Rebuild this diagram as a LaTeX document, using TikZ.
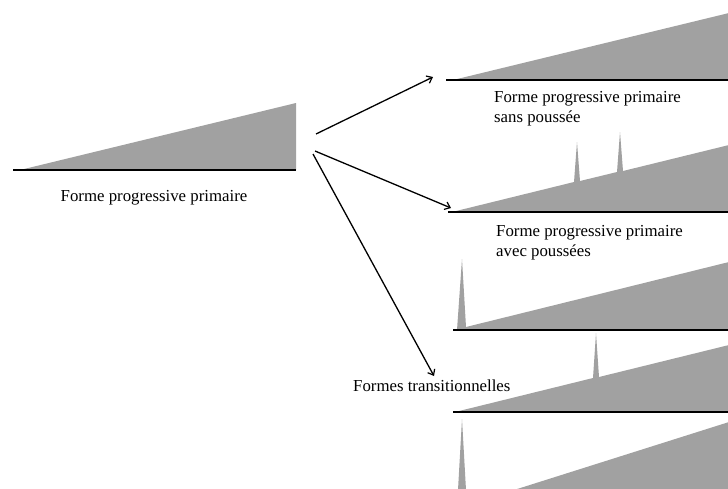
\documentclass[tikz,border=0pt]{standalone}
\usepackage{fontspec}
\setmainfont{Liberation Serif}
\usetikzlibrary{arrows.meta}
\begin{document}
\begin{tikzpicture}[x=1pt,y=-1pt,
  wedge/.style={fill=black!37, draw=none},
  ground/.style={draw=black, line width=1.8pt},
  flow/.style={draw=black, line width=1.3pt, -{Straight Barb[length=5pt,width=8pt,line width=1.2pt]}},
  caption/.style={font=\fontsize{16.8}{20}\selectfont, inner sep=0pt, align=left}]
\useasboundingbox (0,0) rectangle (728,488);
\clip (0,0) rectangle (728,488);

% primary progressive form (left)
\fill[wedge] (20,170) -- (296,103) -- (296,170) -- cycle;
\draw[ground] (13,170) -- (296,170);
\node[caption, anchor=base] (lbl0) at (154,201) {Forme progressive primaire};
\coordinate (src1) at (316,134);
\coordinate (src2) at (315,151);
\coordinate (src3) at (313,154);

% without thrusts
\fill[wedge] (453,80) -- (729,13) -- (729,80) -- cycle;
\draw[ground] (446,80) -- (730,80);
\coordinate (t1) at (433,77);
\node[caption, anchor=base west] (lbl1) at (494,122) {Forme progressive primaire\\sans poussée};

% with thrusts
\fill[wedge] (452,212) -- (574,182) -- (577,142) -- (580,181)
  -- (617,172) -- (620,132) -- (623,171) -- (729,145) -- (729,212) -- cycle;
\draw[ground] (448,212) -- (730,212);
\coordinate (t2) at (451,208);
\node[caption, anchor=base west] (lbl2) at (496,256) {Forme progressive primaire\\avec poussées};

% transitional forms
\fill[wedge] (457,330) -- (462,259) -- (466,327) -- (729,262) -- (729,330) -- cycle;
\draw[ground] (453,330) -- (730,330);

\fill[wedge] (455,412) -- (593,378) -- (596,333) -- (599,377) -- (729,345) -- (729,412) -- cycle;
\draw[ground] (453,412) -- (730,412);

\fill[wedge] (458,490) -- (462,419) -- (466,490) -- cycle;
\fill[wedge] (514,490) -- (729,422) -- (729,490) -- cycle;

\coordinate (t3) at (434,376);
\node[caption, anchor=base west] (lbl3) at (353,391) {Formes transitionnelles};

% branching arrows
\draw[flow] (src1) -- (t1);
\draw[flow] (src2) -- (t2);
\draw[flow] (src3) -- (t3);
\end{tikzpicture}
\end{document}
